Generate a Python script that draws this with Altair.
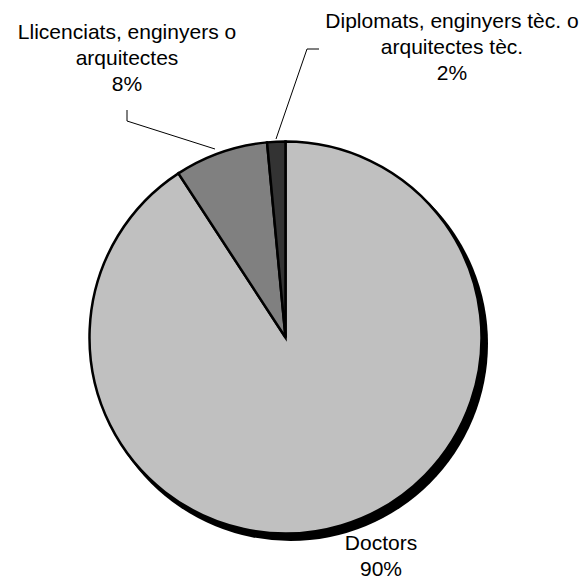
import altair as alt
import pandas as pd

# ---- data ----
categories = ["Doctors", "Llicenciats", "Diplomats"]
label_names = [
    "Doctors",
    "Llicenciats, enginyers o\narquitectes",
    "Diplomats, enginyers tèc. o\narquitectes tèc.",
]
shares = [90.8, 7.7, 1.5]
pct_labels = ["90%", "8%", "2%"]
colors = ["#c0c0c0", "#808080", "#333333"]

# ---- layout (pixels, chart coordinates) ----
W, H = 572, 571
CX, CY, R = 277.5, 329.5, 196
SHADOW_DX, SHADOW_DY = 5, 6
label_pos = {
    "Doctors": (373, 542),
    "Llicenciats": (119, 31),
    "Diplomats": (444, 20),
}
leader_segments = [
    (119, 102, 119, 113),
    (119, 113, 207, 141),
    (311, 41, 299, 41),
    (299, 41, 268, 131),
]
FONT = "Liberation Sans"

pie_df = pd.DataFrame({"cat": categories, "value": shares, "order": [0, 1, 2]})

shadow = alt.Chart(pd.DataFrame({"v": [1]})).mark_arc(
    radius=R + 1.5, color="black"
).encode(
    theta=alt.Theta("v:Q"),
    x=alt.value(CX + SHADOW_DX),
    y=alt.value(CY + SHADOW_DY),
)

pie = alt.Chart(pie_df).mark_arc(
    radius=R, stroke="black", strokeWidth=2.5, strokeJoin="miter"
).encode(
    theta=alt.Theta("value:Q", stack=True),
    order=alt.Order("order:Q"),
    color=alt.Color("cat:N", scale=alt.Scale(domain=categories, range=colors), legend=None),
    x=alt.value(CX),
    y=alt.value(CY),
)

text_df = pd.DataFrame({
    "text": [n + "\n" + p for n, p in zip(label_names, pct_labels)],
    "x": [label_pos[c][0] for c in categories],
    "y": [label_pos[c][1] for c in categories],
})
labels = alt.Chart(text_df).mark_text(
    lineBreak="\n", align="center", baseline="alphabetic",
    fontSize=21, lineHeight=26, font=FONT, color="black"
).encode(
    x=alt.X("x:Q", scale=None),
    y=alt.Y("y:Q", scale=None),
    text="text:N",
)

seg_df = pd.DataFrame(leader_segments, columns=["x", "y", "x2", "y2"])
leaders = alt.Chart(seg_df).mark_rule(color="black", strokeWidth=1).encode(
    x=alt.X("x:Q", scale=None),
    y=alt.Y("y:Q", scale=None),
    x2="x2:Q",
    y2="y2:Q",
)

chart = alt.layer(shadow, pie, leaders, labels).resolve_scale(
    theta="independent"
).properties(
    width=W, height=H, autosize="none", padding=0, background="white"
).configure_view(stroke=None)

chart.save("out.html", embed_options={"renderer": "svg", "actions": False})
